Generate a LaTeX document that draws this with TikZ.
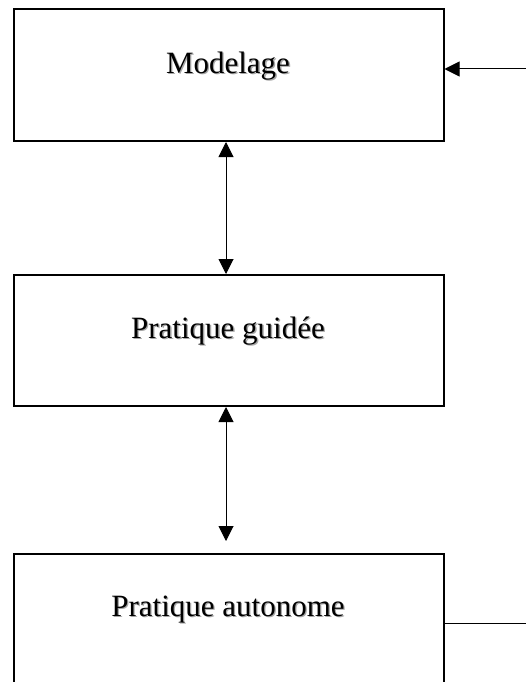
\documentclass[tikz,border=0pt]{standalone}
\usepackage{fontspec}
\setmainfont{Liberation Serif}
\usetikzlibrary{arrows.meta,calc}
\tikzset{
  stagebox/.style={draw=black, line width=2pt, minimum width=430pt, inner sep=0pt},
  stagetext/.style={font=\fontsize{31}{36}\selectfont, inner sep=0pt},
  shadowtext/.style={stagetext, text=black!35},
  link/.style={line width=1pt, -{Triangle[length=15pt,width=15pt]}},
  dlink/.style={line width=1pt, {Triangle[length=15pt,width=15pt]}-{Triangle[length=15pt,width=15pt]}}
}
\begin{document}
\begin{tikzpicture}[x=1pt,y=-1pt]
\useasboundingbox (0,0) rectangle (526,682);
\node[stagebox, minimum height=132pt] (b1) at (228.5,75) {};
\node[stagebox, minimum height=131pt] (b2) at (228.5,340.5) {};
\node[stagebox, minimum height=140pt] (b3) at (228.5,624) {};
\node[shadowtext] (s1) at (229.3,66.8) {Modelage};
\node[shadowtext] (s2) at (229.3,331.8) {Pratique guidée};
\node[shadowtext] (s3) at (229.3,610.8) {Pratique autonome};
\node[stagetext] (t1) at (228,66) {Modelage};
\node[stagetext] (t2) at (228,331) {Pratique guidée};
\node[stagetext] (t3) at (228,610) {Pratique autonome};
\coordinate (inR) at (526,69);
\coordinate (outR) at (526,623);
\coordinate (a2end) at (226,541);
\draw[link] (inR) -- (b1.east |- inR);
\draw[line width=1pt] (b3.east |- outR) -- (outR);
\draw[dlink] ($(b1.south)+(-2.5,0)$) -- ($(b2.north)+(-2.5,0)$);
\draw[dlink] ($(b2.south)+(-2.5,0)$) -- (a2end);
\end{tikzpicture}
\end{document}
